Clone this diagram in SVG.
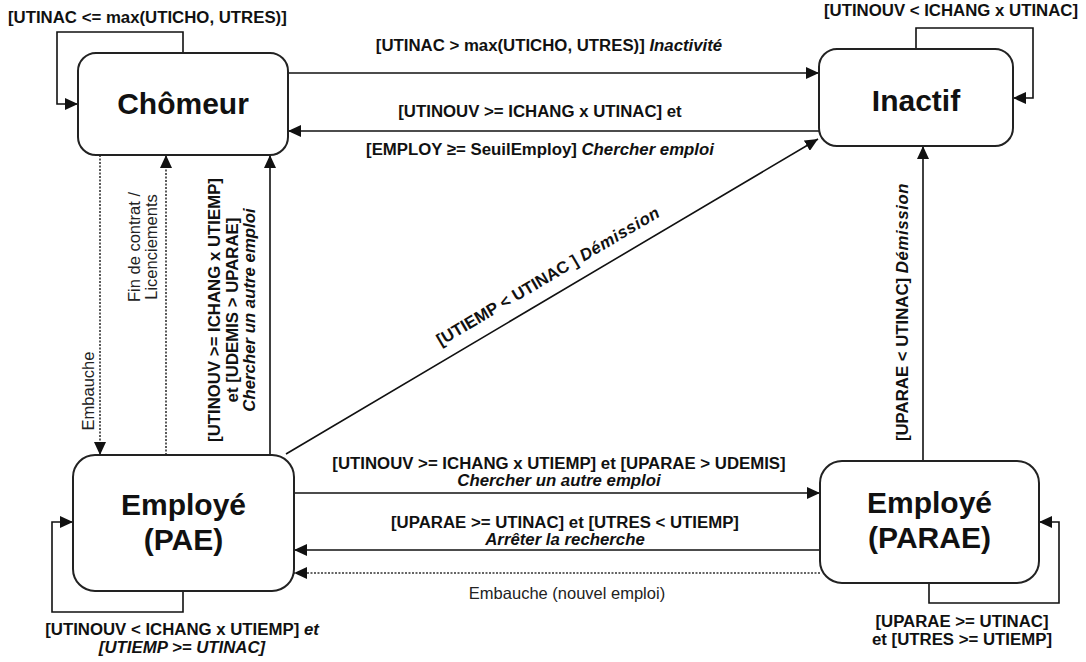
<svg xmlns="http://www.w3.org/2000/svg" width="1086" height="662" viewBox="0 0 1086 662">
<style>
.box{fill:#fff;stroke:#222;stroke-width:2}
.node{font-family:"Liberation Sans",Arial,sans-serif;font-weight:bold;font-size:30px;fill:#111;text-anchor:middle}
.lbl{font-family:"Liberation Sans",Arial,sans-serif;font-weight:bold;font-size:16.8px;fill:#111}
.reg{font-family:"Liberation Sans",Arial,sans-serif;font-size:16.5px;fill:#222}
.it{font-style:italic;font-weight:bold}
.bi{font-style:italic;font-weight:bold}
.mid{text-anchor:middle}
.edge{fill:none;stroke:#111;stroke-width:1.6}
.dot{fill:none;stroke:#333;stroke-width:1.6;stroke-dasharray:2 1.5}
</style>
<defs>
<marker id="arr" markerUnits="userSpaceOnUse" markerWidth="14" markerHeight="12" refX="13" refY="6" orient="auto">
<path d="M0,0 L13,6 L0,12 z" fill="#111"/>
</marker>
</defs>
<rect width="1086" height="662" fill="#fff"/>

<g id="connectors">
<path class="edge" d="M183,53 V32 H57 V104 H78" marker-end="url(#arr)"/>
<path class="edge" d="M916,49 V28 H1033 V98 H1013" marker-end="url(#arr)"/>
<path class="edge" d="M183,591 V612 H52 V522 H73" marker-end="url(#arr)"/>
<path class="edge" d="M929,583 V603 H1059 V522 H1039" marker-end="url(#arr)"/>
<path class="edge" d="M288,73 H819" marker-end="url(#arr)"/>
<path class="edge" d="M819,131 H288" marker-end="url(#arr)"/>
<path class="dot" d="M100,155 V455" marker-end="url(#arr)"/>
<path class="dot" d="M166,455 V155" marker-end="url(#arr)"/>
<path class="edge" d="M270,455 V155" marker-end="url(#arr)"/>
<path class="edge" d="M286,454 L818,139" marker-end="url(#arr)"/>
<path class="edge" d="M294,493 H820" marker-end="url(#arr)"/>
<path class="edge" d="M820,550 H294" marker-end="url(#arr)"/>
<path class="dot" d="M820,573 H294" marker-end="url(#arr)"/>
<path class="edge" d="M923,461 V146" marker-end="url(#arr)"/>

<text class="lbl" x="8" y="23">[UTINAC &lt;= max(UTICHO, UTRES)]</text>
<text class="lbl mid" x="951" y="16">[UTINOUV &lt; ICHANG x UTINAC]</text>
<text class="lbl mid" x="182" y="635">[UTINOUV &lt; ICHANG x UTIEMP] <tspan class="bi">et</tspan></text>
<text class="lbl mid bi" x="182" y="653">[UTIEMP &gt;= UTINAC]</text>
<text class="lbl mid" x="962" y="627">[UPARAE &gt;= UTINAC]</text>
<text class="lbl mid" x="962" y="645">et [UTRES &gt;= UTIEMP]</text>

<text class="lbl mid" x="549" y="51">[UTINAC &gt; max(UTICHO, UTRES)] <tspan class="it">Inactivité</tspan></text>
<text class="lbl mid" x="540" y="117">[UTINOUV &gt;= ICHANG x UTINAC] et</text>
<text class="lbl mid" x="540" y="155">[EMPLOY ≥= SeuilEmploy] <tspan class="it">Chercher emploi</tspan></text>

<text class="reg mid" transform="translate(94,391) rotate(-90)">Embauche</text>
<text class="reg mid" transform="translate(140,247) rotate(-90)">Fin de contrat /</text>
<text class="reg mid" transform="translate(157,247) rotate(-90)">Licenciements</text>

<text class="lbl mid" transform="translate(220,310) rotate(-90)">[UTINOUV &gt;= ICHANG x UTIEMP]</text>
<text class="lbl mid" transform="translate(238,310) rotate(-90)">et [UDEMIS  &gt; UPARAE]</text>
<text class="lbl mid bi" transform="translate(255,310) rotate(-90)">Chercher un autre emploi</text>

<text class="lbl mid" transform="translate(551,281) rotate(-30.6)">[UTIEMP &lt; UTINAC ] <tspan class="it" letter-spacing="0.6">Démission</tspan></text>

<text class="lbl mid" transform="translate(908,312) rotate(-90)">[UPARAE &lt; UTINAC] <tspan class="it" letter-spacing="0.6">Démission</tspan></text>

<text class="lbl mid" x="559" y="469">[UTINOUV &gt;= ICHANG x UTIEMP] et [UPARAE &gt; UDEMIS]</text>
<text class="lbl mid bi" x="559" y="486">Chercher un autre emploi</text>
<text class="lbl mid" x="565" y="528">[UPARAE &gt;= UTINAC] et [UTRES &lt; UTIEMP]</text>
<text class="lbl mid bi" x="565" y="545">Arrêter la recherche</text>
<text class="reg mid" x="567" y="599">Embauche (nouvel emploi)</text>
</g>

<g id="chomeur">
<rect class="box" x="78" y="53" width="210" height="102" rx="18"/>
<text class="node" x="183" y="114">Chômeur</text>
</g>
<g id="inactif">
<rect class="box" x="819" y="49" width="194" height="97" rx="18"/>
<text class="node" x="916" y="111">Inactif</text>
</g>
<g id="employe-pae">
<rect class="box" x="73" y="455" width="221" height="136" rx="22"/>
<text class="node" x="183.5" y="515">Employé</text>
<text class="node" x="183.5" y="550">(PAE)</text>
</g>
<g id="employe-parae">
<rect class="box" x="820" y="461" width="219" height="122" rx="22"/>
<text class="node" x="929.5" y="513">Employé</text>
<text class="node" x="929.5" y="548">(PARAE)</text>
</g>
</svg>
